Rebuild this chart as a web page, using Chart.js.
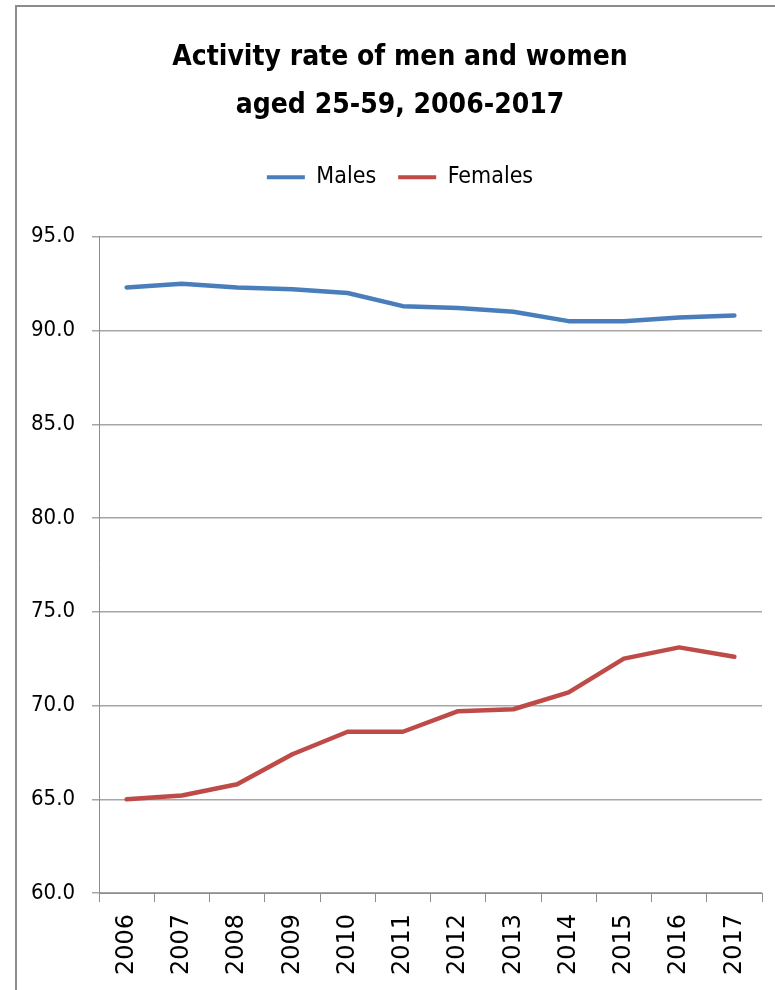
<!DOCTYPE html>
<html>
<head>
<meta charset="utf-8">
<script src="https://cdn.jsdelivr.net/npm/chart.js@4/dist/chart.umd.min.js"></script>
<style>
  html, body { margin: 0; padding: 0; background: #ffffff; }
  #wrap { position: relative; width: 775px; height: 990px; }
</style>
</head>
<body>
<div id="wrap"><canvas id="chart" width="775" height="990"></canvas></div>
<script>
// Activity rate (%) of the population aged 25-59, by sex
const years = ['2006', '2007', '2008', '2009', '2010', '2011', '2012', '2013', '2014', '2015', '2016', '2017'];
const males = [92.3, 92.5, 92.3, 92.2, 92.0, 91.3, 91.2, 91.0, 90.5, 90.5, 90.7, 90.8];
const females = [65.0, 65.2, 65.8, 67.4, 68.6, 68.6, 69.7, 69.8, 70.7, 72.5, 73.1, 72.6];
const titleLines = ['Activity rate of men and women', 'aged 25-59, 2006-2017'];
const yMin = 60, yMax = 95, yStep = 5;

const FONT = "'DejaVu Sans Condensed', 'Liberation Sans Narrow', 'Liberation Sans', sans-serif";
const YEAR_FONT = "'DejaVu Sans', 'Liberation Sans', sans-serif";

// Thin grey frame around the chart
const chartFrame = {
  id: 'chartFrame',
  beforeDraw(chart) {
    const ctx = chart.ctx;
    ctx.save();
    ctx.strokeStyle = '#8c8c8c';
    ctx.lineWidth = 2;
    ctx.strokeRect(16, 6, 900, 1100);
    ctx.restore();
  }
};

// Empty layout box that keeps a gap between the legend and the plot
const legendGap = {
  id: 'legendGap',
  beforeInit(chart) {
    Chart.layouts.addBox(chart, {
      position: 'top',
      weight: 500,
      fullSize: true,
      options: {},
      width: 0, height: 0, left: 0, top: 0, right: 0, bottom: 0,
      isHorizontal() { return true; },
      update(maxWidth) { this.width = maxWidth; this.height = 38; },
      draw() {}
    });
  }
};

new Chart(document.getElementById('chart'), {
  type: 'line',
  data: {
    labels: years,
    datasets: [
      {
        label: 'Males',
        data: males,
        borderColor: '#4a7ebb',
        backgroundColor: '#4a7ebb',
        borderWidth: 4.5,
        borderCapStyle: 'round',
        borderJoinStyle: 'round',
        pointRadius: 0,
        tension: 0
      },
      {
        label: 'Females',
        data: females,
        borderColor: '#be4b48',
        backgroundColor: '#be4b48',
        borderWidth: 4.5,
        borderCapStyle: 'round',
        borderJoinStyle: 'round',
        pointRadius: 0,
        tension: 0
      }
    ]
  },
  options: {
    responsive: false,
    animation: false,
    // title and legend are centred on a band that runs a little past the right edge
    layout: { padding: { left: 0, right: -25, top: 0, bottom: 0 } },
    plugins: {
      title: {
        display: true,
        text: titleLines,
        color: '#000000',
        font: { family: FONT, size: 28, weight: 'bold', lineHeight: 1.71 },
        padding: { top: 34, bottom: 14 }
      },
      legend: {
        display: true,
        labels: {
          color: '#000000',
          font: { family: FONT, size: 23 },
          boxWidth: 38,
          boxHeight: 4,
          padding: 22,
          generateLabels(chart) {
            const items = Chart.defaults.plugins.legend.labels.generateLabels(chart);
            items.forEach(it => { it.fillStyle = it.strokeStyle; it.lineWidth = 0; });
            return items;
          }
        }
      },
      tooltip: { enabled: false }
    },
    scales: {
      x: {
        offset: true,
        grid: {
          offset: true,
          drawOnChartArea: false,
          drawTicks: true,
          tickLength: 9,
          color: '#8c8c8c'
        },
        border: { display: true, color: '#8c8c8c', width: 1 },
        ticks: {
          color: '#000000',
          font: { family: YEAR_FONT, size: 24 },
          maxRotation: 90,
          minRotation: 90,
          padding: 12,
          autoSkip: false
        },
        afterFit(scale) {
          scale.height = 97;
          scale.paddingLeft = 0;
          scale.paddingRight = 13;
        }
      },
      y: {
        min: yMin,
        max: yMax,
        grid: {
          color: '#a6a6a6',
          lineWidth: 1.5,
          tickLength: 7
        },
        border: { display: true, color: '#8c8c8c', width: 1 },
        ticks: {
          stepSize: yStep,
          color: '#000000',
          font: { family: FONT, size: 22 },
          padding: 17,
          callback: v => Number(v).toFixed(1)
        },
        afterFit(scale) { scale.width = 99; }
      }
    }
  },
  plugins: [chartFrame, legendGap]
});
</script>
</body>
</html>
